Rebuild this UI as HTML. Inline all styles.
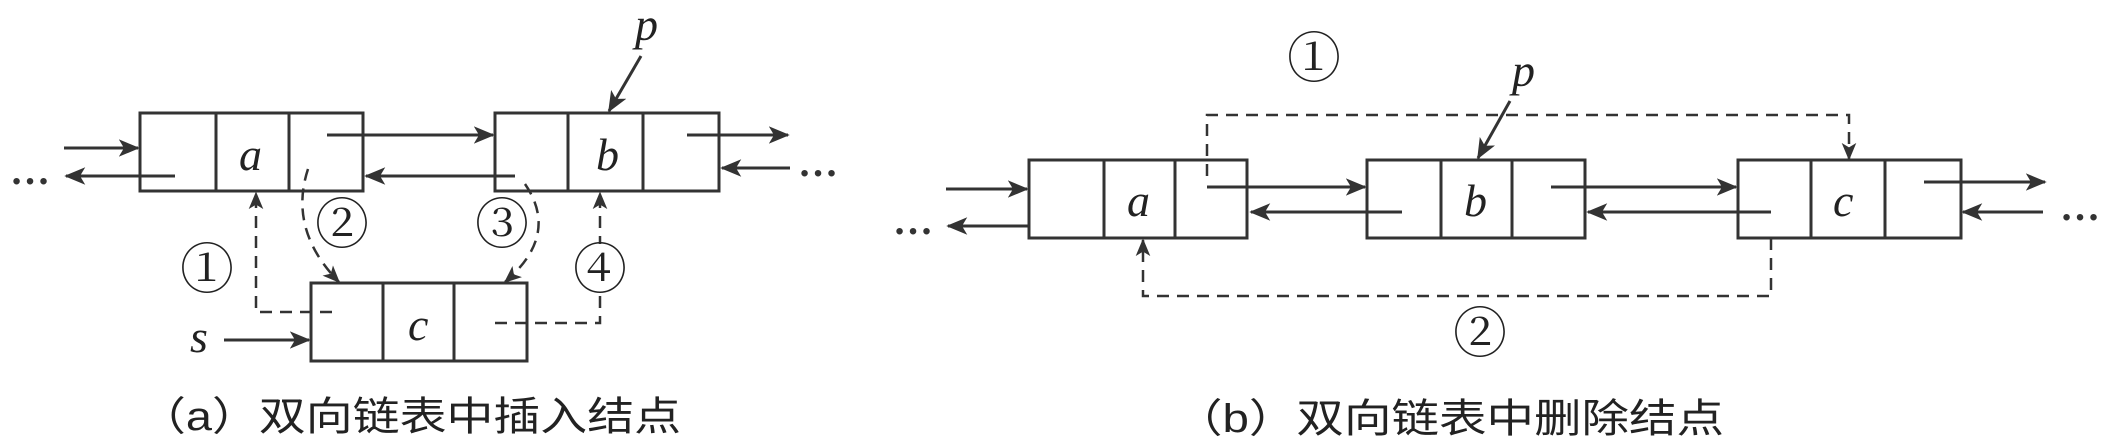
<!DOCTYPE html>
<html><head><meta charset="utf-8"><style>
html,body{margin:0;padding:0;background:#fff;}
svg{display:block}
.t{font-family:"Liberation Serif",serif;font-style:italic;font-size:46px;fill:#222}
.c{font-family:"Liberation Serif","Noto Serif CJK SC",serif;font-size:54px;fill:#222}
.cap{font-family:"Liberation Sans","Noto Sans CJK SC",sans-serif;font-size:40px;fill:#222}
</style></head><body>
<svg width="2126" height="446" viewBox="0 0 2126 446" xmlns="http://www.w3.org/2000/svg">
<defs>
<marker id="ar" viewBox="0 0 12 10" refX="11" refY="5" markerWidth="7" markerHeight="6" markerUnits="strokeWidth" orient="auto"><path d="M0,0 L12,5 L0,10 L3,5 z" fill="#333"/></marker>
</defs>
<g fill="none" stroke="#333" stroke-width="3">
<rect x="140" y="113" width="223" height="78"/><line x1="216" y1="113" x2="216" y2="191"/><line x1="289" y1="113" x2="289" y2="191"/>
<rect x="495" y="113" width="224" height="78"/><line x1="568" y1="113" x2="568" y2="191"/><line x1="643" y1="113" x2="643" y2="191"/>
<rect x="311" y="283" width="216" height="78"/><line x1="383" y1="283" x2="383" y2="361"/><line x1="454" y1="283" x2="454" y2="361"/>
<rect x="1029" y="160" width="218" height="78"/><line x1="1104" y1="160" x2="1104" y2="238"/><line x1="1175" y1="160" x2="1175" y2="238"/>
<rect x="1367" y="160" width="218" height="78"/><line x1="1441" y1="160" x2="1441" y2="238"/><line x1="1512" y1="160" x2="1512" y2="238"/>
<rect x="1738" y="160" width="223" height="78"/><line x1="1811" y1="160" x2="1811" y2="238"/><line x1="1885" y1="160" x2="1885" y2="238"/>
</g>
<g fill="none" stroke="#333" stroke-width="3" marker-end="url(#ar)">
<line x1="64" y1="148" x2="138" y2="148"/>
<line x1="175" y1="176" x2="66" y2="176"/>
<line x1="327" y1="135" x2="493" y2="135"/>
<line x1="515" y1="176" x2="366" y2="176"/>
<line x1="687" y1="135" x2="788" y2="135"/>
<line x1="790" y1="168" x2="722" y2="168"/>
<line x1="224" y1="340" x2="309" y2="340"/>
<line x1="641" y1="56" x2="609" y2="111"/>
<line x1="946" y1="189" x2="1027" y2="189"/>
<line x1="1030" y1="226" x2="948" y2="226"/>
<line x1="1207" y1="187" x2="1365" y2="187"/>
<line x1="1402" y1="212" x2="1251" y2="212"/>
<line x1="1551" y1="187" x2="1736" y2="187"/>
<line x1="1771" y1="212" x2="1588" y2="212"/>
<line x1="1924" y1="182" x2="2045" y2="182"/>
<line x1="2043" y1="212" x2="1963" y2="212"/>
<line x1="1510" y1="101" x2="1478" y2="158"/>
</g>
<g fill="none" stroke="#333" stroke-width="2.5" stroke-dasharray="12,8" marker-end="url(#ar)">
<polyline points="332,312 256,312 256,193"/>
<path d="M308,169 Q288,230 339,282"/>
<path d="M525,184 Q560,235 505,282"/>
<polyline points="495,323 600,323 600,193"/>
<polyline points="1207,176 1207,115 1849,115 1849,159"/>
<polyline points="1771,238 1771,296 1143,296 1143,240"/>
</g>
<g class="t">
<text x="239" y="170">a</text><text x="596" y="170">b</text><text x="408" y="340">c</text>
<text x="635" y="40">p</text><text x="190" y="352">s</text>
<text x="1127" y="216">a</text><text x="1464" y="216">b</text><text x="1833" y="216">c</text>
<text x="1512" y="86">p</text>
</g>
<g font-family="Liberation Serif,serif" font-size="40" font-weight="bold" fill="#333">
<text x="10" y="184">…</text><text x="798" y="176">…</text>
<text x="893" y="234">…</text><text x="2060" y="220">…</text>
</g>
<g class="c" text-anchor="middle">
<text x="207" y="288">①</text><text x="342" y="243">②</text><text x="502" y="243">③</text>
<rect x="586" y="244" width="30" height="48" fill="#fff"/>
<text x="600" y="288">④</text>
<text x="1314" y="77">①</text><text x="1480" y="352">②</text>
</g>
<g class="cap">
<text x="139" y="430" textLength="542" lengthAdjust="spacingAndGlyphs">（a）双向链表中插入结点</text>
<text x="1175" y="432" textLength="549" lengthAdjust="spacingAndGlyphs">（b）双向链表中删除结点</text>
</g>
</svg>
</body></html>
